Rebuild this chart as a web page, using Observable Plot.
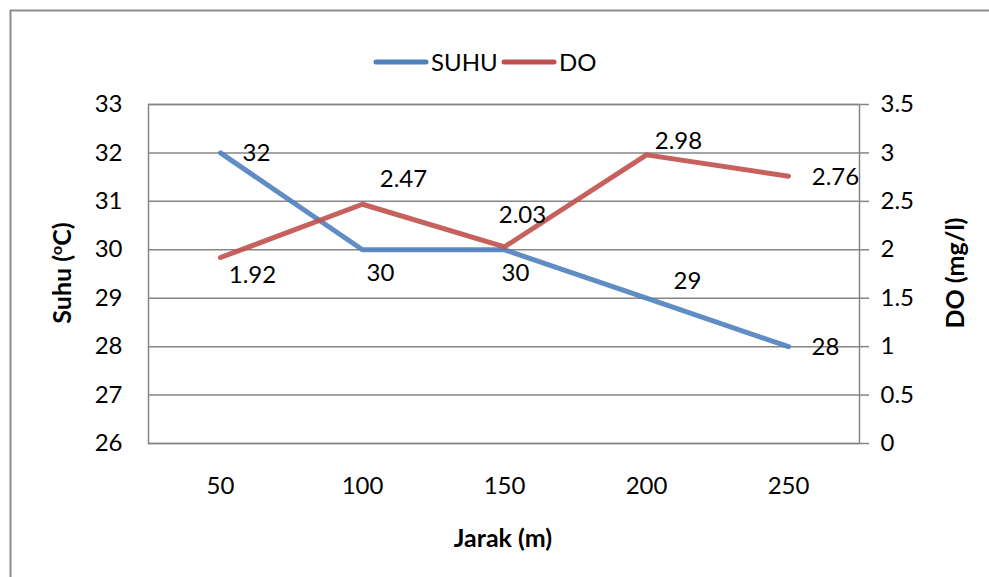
<!DOCTYPE html>
<html>
<head>
<meta charset="utf-8">
<script src="https://cdn.jsdelivr.net/npm/d3@7"></script>
<script src="https://cdn.jsdelivr.net/npm/@observablehq/plot@0.6"></script>
<style>
  html, body { margin: 0; padding: 0; background: #fff; }
  svg { display: block; }
</style>
</head>
<body>
<script>
// Distance along the transect (m)
const jarak = ["50", "100", "150", "200", "250"];
// Water temperature (°C)
const suhu = [32, 30, 30, 29, 28];
// Dissolved oxygen (mg/l)
const doValues = [1.92, 2.47, 2.03, 2.98, 2.76];
// Axis ticks
const suhuTicks = [26, 27, 28, 29, 30, 31, 32, 33];
const doTicks = [0, 0.5, 1, 1.5, 2, 2.5, 3, 3.5];

// DO shares the plot with temperature: 0–3.5 mg/l spans 26–33 °C
const doToSuhu = v => 26 + v * 2;

const blue = "#4F81BD";
const red = "#C0504D";
const gridGray = "#868686";
const font = "Lato, 'Open Sans', sans-serif";
const fs = 24;

const suhuRows = jarak.map((j, i) => ({jarak: j, value: suhu[i]}));
const doRows = jarak.map((j, i) => ({jarak: j, value: doValues[i], y: doToSuhu(doValues[i])}));

// Hand-placed label nudges (dx, dy) per point, as laid out on the chart
const suhuNudge = [[36, 0], [18, 24], [11, 24], [41, -17], [37, 1]];
const doNudge = [[32, 18], [41, -25], [18, -32], [32, -14], [47, 1]];

const labelMarks = [
  ...suhuRows.map((r, i) => Plot.text([r], {
    x: "jarak", y: "value", text: d => String(d.value),
    dx: suhuNudge[i][0], dy: suhuNudge[i][1], fill: "#000", fontSize: fs
  })),
  ...doRows.map((r, i) => Plot.text([r], {
    x: "jarak", y: "y", text: d => d.value.toFixed(2),
    dx: doNudge[i][0], dy: doNudge[i][1], fill: "#000", fontSize: fs
  }))
];

const chart = Plot.plot({
  width: 989,
  height: 577,
  marginLeft: 148,
  marginRight: 130,
  marginTop: 104,
  marginBottom: 134,
  style: {fontFamily: font, fontSize: fs + "px", color: "#000", background: "#fff"},
  x: {type: "point", domain: jarak, padding: 0.5, label: null},
  y: {domain: [26, 33], label: null},
  marks: [
    Plot.gridY(suhuTicks, {stroke: gridGray, strokeOpacity: 1, strokeWidth: 1.5}),
    Plot.frame({stroke: gridGray, strokeWidth: 1.5}),
    Plot.axisY(suhuTicks, {anchor: "left", tickSize: 0, tickPadding: 26, fontSize: fs, fill: "#000", label: null}),
    Plot.axisY(doTicks.map(doToSuhu), {
      anchor: "right", tickSize: 9, tickPadding: 12, fontSize: fs, fill: "#000", label: null,
      stroke: gridGray, strokeWidth: 1.5, tickFormat: d => String((d - 26) / 2)
    }),
    Plot.axisX({tickSize: 0, tickPadding: 33, fontSize: fs, fill: "#000", label: null}),
    Plot.line(suhuRows, {x: "jarak", y: "value", stroke: blue, strokeWidth: 5, strokeOpacity: 0.9, strokeLinecap: "round"}),
    Plot.line(doRows, {x: "jarak", y: "y", stroke: red, strokeWidth: 5, strokeOpacity: 0.9, strokeLinecap: "round"}),
    ...labelMarks
  ]
});

const svg = d3.select(chart);

// Outer chart border
svg.append("rect")
  .attr("x", 10.5).attr("y", 10.5).attr("width", 1200).attr("height", 1200)
  .attr("fill", "none").attr("stroke", "#8c8c8c").attr("stroke-width", 2);

// Legend
const legend = svg.append("g")
  .attr("font-family", font).attr("font-size", fs).attr("text-anchor", "start").attr("fill", "#000");
[["SUHU", blue, 374], ["DO", red, 502]].forEach(([name, color, x0]) => {
  legend.append("line")
    .attr("x1", x0 + 2).attr("x2", x0 + 52).attr("y1", 62).attr("y2", 62)
    .attr("stroke", color).attr("stroke-width", 5).attr("stroke-linecap", "round");
  legend.append("text")
    .attr("x", x0 + 57).attr("y", 62).attr("dy", "0.36em")
    .text(name);
});

// Axis titles
const titles = svg.append("g")
  .attr("font-family", font).attr("font-size", 25).attr("font-weight", "bold")
  .attr("text-anchor", "middle").attr("fill", "#000");

const leftTitle = titles.append("text")
  .attr("transform", "translate(62,273) rotate(-90)")
  .attr("dy", "0.36em");
leftTitle.append("tspan").text("Suhu (");
leftTitle.append("tspan").attr("font-size", 16).attr("dy", "-0.55em").text("o");
leftTitle.append("tspan").attr("dy", "0.35em").text("C)");

titles.append("text")
  .attr("transform", "translate(955,273) rotate(-90)")
  .attr("dy", "0.36em")
  .text("DO (mg/l)");

titles.append("text")
  .attr("x", 503).attr("y", 538).attr("dy", "0.36em")
  .text("Jarak (m)");

document.body.append(chart);
</script>
</body>
</html>
